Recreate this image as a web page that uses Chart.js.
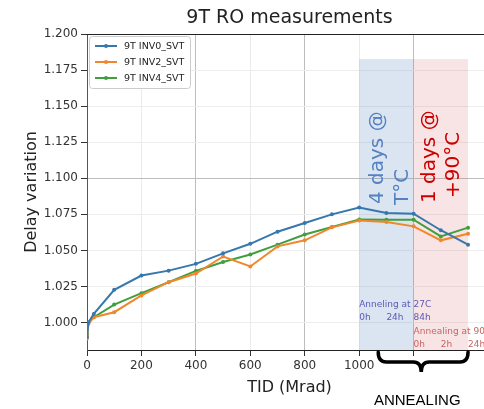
<!DOCTYPE html>
<html>
<head>
<meta charset="utf-8">
<script src="https://cdn.jsdelivr.net/npm/chart.js@4.4.0/dist/chart.umd.min.js"></script>
<style>
  html, body { margin:0; padding:0; background:#fff; overflow:hidden; }
  #wrap { width:496px; height:409px; }
</style>
</head>
<body>
<div id="wrap"><canvas id="c" width="496" height="409"></canvas></div>
<script>
/* ---------- data ---------- */
const tid  = [0, 5, 25, 100, 200, 300, 400, 500, 600, 700, 800, 900, 1000, 1100, 1200, 1300, 1400];
const inv0 = [0.990, 1.000, 1.006, 1.0227, 1.0326, 1.036, 1.0407, 1.048, 1.0546, 1.063, 1.069, 1.075, 1.0797, 1.076, 1.0755, 1.064, 1.054];
const inv2 = [0.989, 0.999, 1.0037, 1.0072, 1.0188, 1.028, 1.034, 1.0458, 1.0389, 1.0528, 1.057, 1.066, 1.0708, 1.0697, 1.0667, 1.057, 1.0616];
const inv4 = [0.992, 1.000, 1.0037, 1.0125, 1.0204, 1.028, 1.0358, 1.042, 1.0472, 1.054, 1.061, 1.0663, 1.0715, 1.0713, 1.0713, 1.0597, 1.0658];
const seriesNames = ["9T INV0_SVT", "9T INV2_SVT", "9T INV4_SVT"];
const xTicks = [0, 200, 400, 600, 800, 1000, 1200, 1400];
const yTicks = [1.000, 1.025, 1.050, 1.075, 1.100, 1.125, 1.150, 1.175, 1.200];
const roomSpan = [1000, 1200];   // 4 days at room temperature
const hotSpan  = [1200, 1400];   // 1 day at +90°C
const roomHours = [["0h", 1000], ["24h", 1100], ["84h", 1200]];
const hotHours  = [["0h", 1200], ["2h", 1300], ["24h", 1400]];

const COLORS = ["#3677ac", "#f0872c", "#3f9f3f"];
const FONT = "'DejaVu Sans', sans-serif";

const pts = ys => tid.map((x, i) => ({ x, y: ys[i] }));

/* ---------- annotation plugins ---------- */
const shading = {
  id: "shading",
  beforeDatasetsDraw(c) {
    const g = c.ctx, x = c.scales.x, y = c.scales.y, a = c.chartArea;
    const top = y.getPixelForValue(1.1826);
    g.save();
    g.fillStyle = "rgba(110,150,200,0.25)";
    g.fillRect(x.getPixelForValue(roomSpan[0]), top, x.getPixelForValue(roomSpan[1]) - x.getPixelForValue(roomSpan[0]), a.bottom - top);
    g.fillStyle = "rgba(220,120,120,0.2)";
    g.fillRect(x.getPixelForValue(hotSpan[0]), top, x.getPixelForValue(hotSpan[1]) - x.getPixelForValue(hotSpan[0]), a.bottom - top);

    // rotated labels
    const vtext = (txt, px, py, col) => {
      g.save();
      g.translate(px, py);
      g.rotate(-Math.PI / 2);
      g.font = "20px " + FONT;
      g.fillStyle = col;
      g.textAlign = "left";
      g.textBaseline = "middle";
      g.fillText(txt, 0, 0);
      g.restore();
    };
    const r0 = x.getPixelForValue(roomSpan[0]), h0 = x.getPixelForValue(hotSpan[0]);
    vtext("4 days @", r0 + 19, 204, "#5582c2");
    vtext("T°C", r0 + 44, 205, "#5582c2");
    vtext("1 days @", h0 + 16, 203, "#cc0000");
    vtext("+90°C", h0 + 40, 198, "#cc0000");
    g.restore();
  }
};

const extras = {
  id: "extras",
  afterDraw(c) {
    const g = c.ctx, x = c.scales.x, a = c.chartArea;
    g.save();

    // title
    g.fillStyle = "#222";
    g.font = "19px " + FONT;
    g.textAlign = "center";
    g.textBaseline = "middle";
    g.fillText("9T RO measurements", (a.left + a.right) / 2, 18);

    // top spine
    g.strokeStyle = "#222";
    g.lineWidth = 1;
    g.beginPath();
    g.moveTo(a.left, a.top + 0.5);
    g.lineTo(a.right, a.top + 0.5);
    g.stroke();

    // legend
    const lx = a.left + 2, ly = a.top + 2, lw = 101, lh = 52;
    g.fillStyle = "rgba(255,255,255,0.85)";
    g.strokeStyle = "#cccccc";
    g.beginPath();
    g.roundRect(lx + 0.5, ly + 0.5, lw, lh, 3);
    g.fill();
    g.stroke();
    g.font = "9.5px " + FONT;
    g.textAlign = "left";
    seriesNames.forEach((n, i) => {
      const yy = ly + 10 + i * 16;
      g.strokeStyle = COLORS[i];
      g.lineWidth = 2;
      g.beginPath();
      g.moveTo(lx + 6, yy);
      g.lineTo(lx + 28, yy);
      g.stroke();
      g.fillStyle = COLORS[i];
      g.beginPath();
      g.arc(lx + 17, yy, 2, 0, Math.PI * 2);
      g.fill();
      g.fillStyle = "#222";
      g.fillText(n, lx + 35, yy + 0.5);
    });

    // small annealing notes
    g.font = "9px " + FONT;
    g.textBaseline = "middle";
    g.fillStyle = "#5a5ab4";
    g.fillText("Anneling at 27C", x.getPixelForValue(roomSpan[0]), 305);
    roomHours.forEach(([t, v]) => g.fillText(t, x.getPixelForValue(v), 318));
    g.fillStyle = "#c86464";
    g.fillText("Annealing at 90C", x.getPixelForValue(hotSpan[0]), 332);
    hotHours.forEach(([t, v]) => g.fillText(t, x.getPixelForValue(v), 345));

    // curly brace under the annealing part
    const x0 = x.getPixelForValue(1070), x1 = x.getPixelForValue(1400), xc = x.getPixelForValue(1228);
    const y0 = 352, ym = 362, yt = 372, r = 8;
    g.strokeStyle = "#000";
    g.lineWidth = 3.5;
    g.lineCap = "round";
    g.beginPath();
    g.moveTo(x0, y0);
    g.quadraticCurveTo(x0, ym, x0 + r, ym);
    g.lineTo(xc - r, ym);
    g.quadraticCurveTo(xc, ym, xc, yt);
    g.quadraticCurveTo(xc, ym, xc + r, ym);
    g.lineTo(x1 - r, ym);
    g.quadraticCurveTo(x1, ym, x1, y0);
    g.stroke();

    g.fillStyle = "#000";
    g.font = "15px 'Liberation Sans', Arial, sans-serif";
    g.textAlign = "center";
    g.fillText("ANNEALING", xc - 4, 401);
    g.restore();
  }
};

/* ---------- chart ---------- */
new Chart(document.getElementById("c"), {
  type: "line",
  data: {
    datasets: [inv0, inv2, inv4].map((ys, i) => ({
      label: seriesNames[i],
      data: pts(ys),
      borderColor: COLORS[i],
      backgroundColor: COLORS[i],
      borderWidth: 2,
      pointRadius: 2,
      pointBorderWidth: 0,
      tension: 0
    }))
  },
  options: {
    responsive: false,
    animation: false,
    layout: { padding: { top: 34, left: 0, right: 0, bottom: 0 } },
    plugins: { legend: { display: false }, title: { display: false }, tooltip: { enabled: false } },
    scales: {
      x: {
        type: "linear",
        min: 0, max: 1488,
        afterBuildTicks: s => { s.ticks = xTicks.map(v => ({ value: v })); },
        afterFit: s => { s.height = 59; },
        ticks: {
          autoSkip: false, maxRotation: 0, padding: 3,
          color: "#333", font: { family: FONT, size: 12 },
          callback: v => (v > 1000 ? "" : String(v))
        },
        grid: {
          tickLength: 6, tickColor: "#333",
          color: ctx => {
            const v = ctx.tick ? ctx.tick.value : 0;
            if (v === 0 || v === 1400) return "rgba(0,0,0,0)";
            return v % 400 === 0 ? "#bdbdbd" : "#ebebeb";
          }
        },
        border: { color: "#222", width: 1 },
        title: { display: true, text: "TID (Mrad)", color: "#222", font: { family: FONT, size: 16 }, padding: { top: 0, bottom: 12 } }
      },
      y: {
        min: 0.981, max: 1.2,
        afterBuildTicks: s => { s.ticks = yTicks.map(v => ({ value: v })); },
        afterFit: s => { s.width = 87; },
        ticks: { padding: 3, color: "#333", font: { family: FONT, size: 12 }, callback: v => v.toFixed(3) },
        grid: {
          tickLength: 6, tickColor: "#333",
          color: ctx => {
            const v = ctx.tick ? ctx.tick.value : 0;
            if (Math.abs(v - 1.2) < 1e-6) return "rgba(0,0,0,0)";
            return Math.abs(v - 1.1) < 1e-6 ? "#bdbdbd" : "#ededed";
          }
        },
        border: { color: "#555", width: 1 },
        title: { display: true, text: "Delay variation", color: "#222", font: { family: FONT, size: 16 }, padding: { top: 22, bottom: 0 } }
      }
    }
  },
  plugins: [shading, extras]
});
</script>
</body>
</html>
